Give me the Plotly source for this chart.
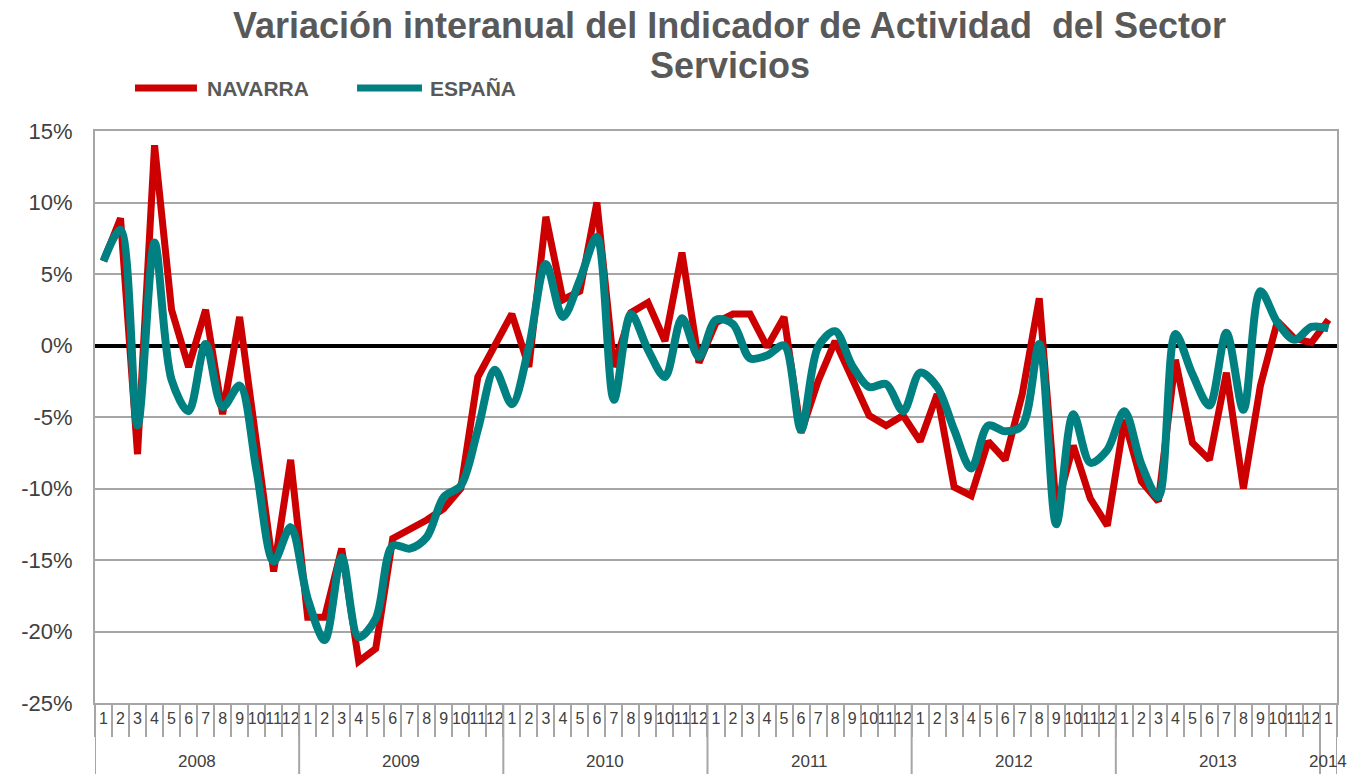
import plotly.graph_objects as go

years = ["2008"] * 12 + ["2009"] * 12 + ["2010"] * 12 + ["2011"] * 12 + ["2012"] * 12 + ["2013"] * 12 + ["2014"]
months = [str(m) for m in range(1, 13)] * 6 + ["1"]

navarra = [
    5.9, 8.9, -7.6, 14.0, 2.5, -1.5, 2.5, -4.8, 2.0, -6.5, -15.8, -8.0,
    -19.0, -19.0, -14.2, -22.1, -21.2, -13.5, -12.9, -12.2, -11.4, -10.0, -2.2, 0.0,
    2.2, -1.5, 9.0, 3.2, 3.8, 10.0, -1.5, 2.3, 3.0, 0.3, 6.5, -1.2,
    1.6, 2.2, 2.2, -0.1, 2.0, -6.1, -2.5, 0.3, -2.4, -4.9, -5.6, -4.9,
    -6.7, -3.4, -9.9, -10.5, -6.7, -8.0, -3.4, 3.3, -11.4, -7.0, -10.7, -12.6,
    -5.2, -9.5, -10.9, -1.0, -6.8, -8.0, -1.9, -10.0, -2.8, 1.7, 0.5, 0.2,
    1.8,
]

espana = [
    5.9, 8.1, -5.6, 7.2, -2.4, -4.6, 0.1, -4.3, -2.8, -8.8, -15.1, -12.7,
    -17.7, -20.6, -14.8, -20.4, -19.1, -14.0, -14.2, -13.4, -10.6, -9.8, -5.9, -1.7,
    -4.1, -0.1, 5.7, 2.0, 4.6, 7.6, -3.8, 2.2, -0.3, -2.2, 1.9, -0.8,
    1.8, 1.5, -0.9, -0.7, 0.0, -5.9, -0.1, 1.0, -1.4, -2.9, -2.7, -4.6,
    -1.9, -2.9, -5.9, -8.6, -5.6, -6.0, -5.6, 0.1, -12.5, -4.8, -8.2, -7.3,
    -4.6, -8.3, -10.6, 0.8, -2.0, -4.2, 0.9, -4.5, 3.8, 1.6, 0.4, 1.3,
    1.2,
]

y_ticks = [-25, -20, -15, -10, -5, 0, 5, 10, 15]
y_tick_labels = ["-25%", "-20%", "-15%", "-10%", "-5%", "0%", "5%", "10%", "15%"]

series_names = ["NAVARRA", "ESPAÑA"]
title_line1 = "Variación interanual del Indicador de Actividad  del Sector"
title_line2 = "Servicios"

RED = "#CC0000"
TEAL = "#008080"
GREY_TXT = "#595959"
GRID = "#A6A6A6"
FONT = "Liberation Sans, Arial, sans-serif"

# unique category per month (year/month)
cats = [f"{m}/{y}" for y, m in zip(years, months)]

fig = go.Figure()
fig.add_trace(go.Scatter(
    x=cats, y=navarra, name=series_names[0], mode="lines",
    line=dict(color=RED, width=7), hoverinfo="x+y",
))
fig.add_trace(go.Scatter(
    x=cats, y=espana, name=series_names[1], mode="lines",
    line=dict(color=TEAL, width=8, shape="spline", smoothing=0.9), hoverinfo="x+y",
))

fig.update_layout(
    template="none",
    width=1350, height=774,
    margin=dict(l=95, r=13, t=131, b=71, autoexpand=False),
    paper_bgcolor="white", plot_bgcolor="white",
    font=dict(family=FONT, color="#404040"),
    showlegend=False,
)

# title (two lines, tight spacing like the reference)
fig.add_annotation(text=title_line1, xref="paper", yref="paper", x=0.511, y=1.185,
                   xanchor="center", yanchor="middle", showarrow=False,
                   font=dict(size=36, color=GREY_TXT, family=FONT, weight="bold"))
fig.add_annotation(text=title_line2, xref="paper", yref="paper", x=0.511, y=1.115,
                   xanchor="center", yanchor="middle", showarrow=False,
                   font=dict(size=36, color=GREY_TXT, family=FONT, weight="bold"))

# legend drawn as line samples + labels
legend_items = [(RED, series_names[0], 0.0322, 0.0821, 0.0886),
                (TEAL, series_names[1], 0.2110, 0.2633, 0.2681)]
for color, name, x0, x1, xt in legend_items:
    fig.add_shape(type="line", xref="paper", yref="paper", x0=x0, x1=x1, y0=1.0752, y1=1.0752,
                  line=dict(color=color, width=7))
    fig.add_annotation(text=name, xref="paper", yref="paper", x=xt, y=1.0735,
                       xanchor="left", yanchor="middle", showarrow=False,
                       font=dict(size=21, color=GREY_TXT, family=FONT, weight="bold"))

# year group labels and dividers (derived from the years list)
year_order = list(dict.fromkeys(years))
boundaries = [-0.5]
for yr in year_order:
    idx = [i for i, y in enumerate(years) if y == yr]
    first, last = idx[0], idx[-1]
    boundaries.append(last + 0.5)
    fig.add_annotation(text=yr, xref="x", yref="paper", x=(first + last) / 2, y=-0.103,
                       xanchor="center", yanchor="middle", showarrow=False,
                       font=dict(size=17, color="#404040", family=FONT))
for b in boundaries:
    fig.add_shape(type="line", xref="x", yref="paper", x0=b, x1=b, y0=0, y1=-0.13,
                  line=dict(color=GRID, width=2), layer="above")

fig.update_xaxes(
    type="category",
    range=[-0.5, len(cats) - 0.5],
    tickmode="array", tickvals=cats, ticktext=months,
    showgrid=False,
    showline=True, linecolor=GRID, linewidth=2, mirror=True,
    ticks="outside", tickson="boundaries", ticklen=32, tickcolor=GRID, tickwidth=1.5,
    tickangle=0,
    tickfont=dict(size=16, color="#404040"),
    automargin=False,
)
fig.update_yaxes(
    range=[-25, 15],
    tickvals=y_ticks, ticktext=y_tick_labels,
    showgrid=True, gridcolor=GRID, gridwidth=2,
    zeroline=True, zerolinecolor="black", zerolinewidth=4,
    showline=True, linecolor=GRID, linewidth=2, mirror=True,
    ticks="", ticklabelstandoff=16, tickfont=dict(size=22, color="#404040"),
    automargin=False,
)

fig.write_html(
    "out.html",
    config={"displayModeBar": False},
    post_script="document.body.style.margin='0';document.body.style.overflow='hidden';",
)
